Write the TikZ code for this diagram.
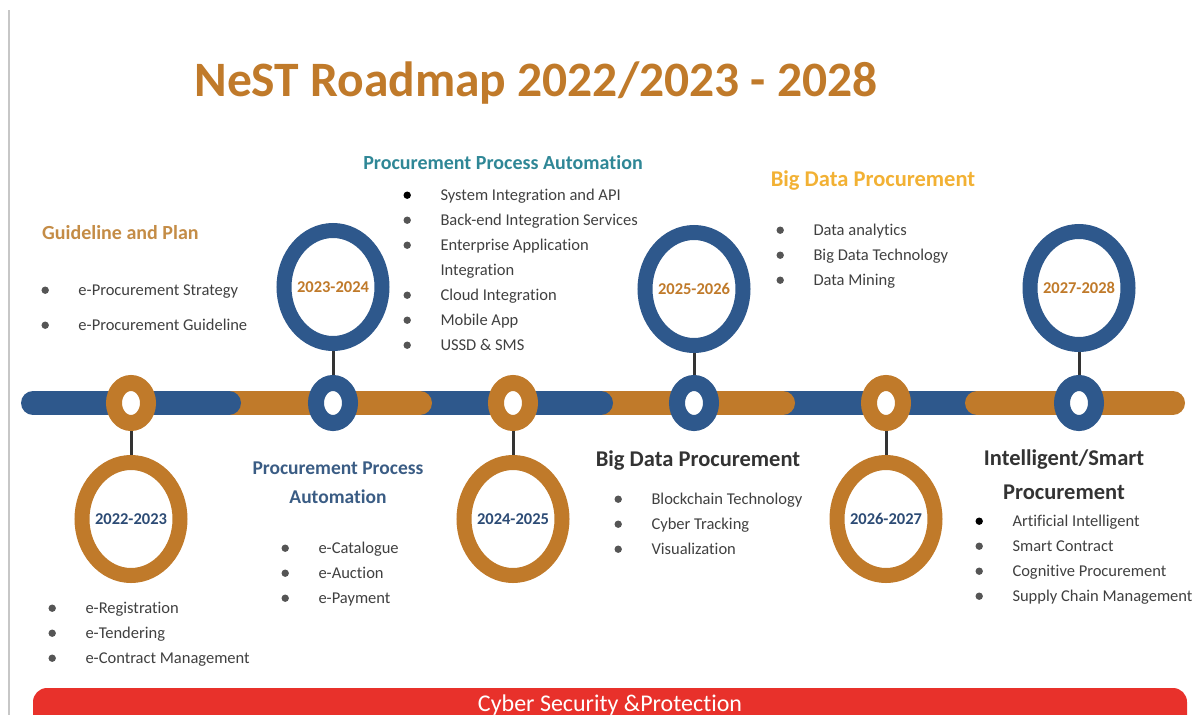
\documentclass[tikz,border=0pt]{standalone}
\usepackage{fontspec}
\setmainfont{Carlito}[Ligatures=NoCommon]
\usepackage{tikz}
\usetikzlibrary{shapes.geometric}
\definecolor{nestorange}{RGB}{192,122,42}
\definecolor{nestblue}{RGB}{46,88,140}
\definecolor{yearblue}{RGB}{44,75,117}
\definecolor{headteal}{RGB}{47,135,150}
\definecolor{headgold}{RGB}{242,177,52}
\definecolor{headslate}{RGB}{58,92,132}
\definecolor{headbrown}{RGB}{196,140,70}
\definecolor{textgray}{RGB}{64,64,64}
\definecolor{dotgray}{RGB}{85,85,85}
\definecolor{cyberred}{RGB}{232,49,43}
\newcommand{\dotm}[1][dotgray]{\makebox[37pt][l]{\tikz[baseline=-5.5pt]\fill[#1] (0,0) circle[radius=3.7pt];}\strut}

\begin{document}
\begin{tikzpicture}[x=1pt, y=-1pt,
    bigring/.style={ellipse, draw=#1, line width=15pt, fill=white, minimum width=98pt, minimum height=113pt, inner sep=-14pt, font=\fontsize{16.5}{20}\selectfont\bfseries},
    dotring/.style={ellipse, draw=#1, line width=16pt, fill=white, minimum width=34pt, minimum height=40pt, inner sep=0pt},
    stem/.style={draw=black!80, line width=3pt},
    bar/.style={line width=24pt, line cap=round},
    head/.style={inner sep=0pt, font=\fontsize{20}{29}\selectfont\bfseries},
    items/.style={anchor=north west, align=left, inner sep=0pt, text=textgray, font=\fontsize{16.5}{25}\selectfont}]
        \useasboundingbox (0,0) rectangle (1195,715);
        \draw[black!22, line width=1.2pt] (9,10) -- (9,715);

        \node[font=\fontsize{49.5}{60}\selectfont\bfseries, text=nestorange] (title) at (536,83) {NeST Roadmap 2022/2023 - 2028};

        \draw[bar, nestblue] (783,403) -- (980,403);
        \draw[bar, nestorange] (977,403) -- (1173,403);
        \draw[bar, nestorange] (601,403) -- (783,403);
        \draw[bar, nestblue] (420,403) -- (601,403);
        \draw[bar, nestorange] (229,403) -- (420,403);
        \draw[bar, nestblue] (33,403) -- (229,403);

        \node[dotring=nestorange] (d1) at (131,403) {};
        \node[dotring=nestblue] (d2) at (333,403) {};
        \node[dotring=nestorange] (d3) at (513,403) {};
        \node[dotring=nestblue] (d4) at (694,403) {};
        \node[dotring=nestorange] (d5) at (886,403) {};
        \node[dotring=nestblue] (d6) at (1079,403) {};

        \node[bigring=nestorange, text=yearblue] (y22) at (131,519) {2022-2023};
        \node[bigring=nestblue, text=nestorange] (y23) at (333,287) {2023-2024};
        \node[bigring=nestorange, text=yearblue] (y24) at (513,519) {2024-2025};
        \node[bigring=nestblue, text=nestorange] (y25) at (694,289) {2025-2026};
        \node[bigring=nestorange, text=yearblue] (y26) at (886,519) {2026-2027};
        \node[bigring=nestblue, text=nestorange] (y27) at (1079,288) {2027-2028};

        \draw[stem] (d1) -- (y22);
        \draw[stem] (d2) -- (y23);
        \draw[stem] (d3) -- (y24);
        \draw[stem] (d4) -- (y25);
        \draw[stem] (d5) -- (y26);
        \draw[stem] (d6) -- (y27);

        \node[head, text=headbrown, anchor=west] (plan) at (42,233) {Guideline and Plan};
        \node[items] (planlist) at (41.3,278) {\dotm e-Procurement Strategy\\[10pt]\dotm e-Procurement Guideline};
        \node[items] (ereglist) at (48.3,596) {\dotm e-Registration\\\dotm e-Tendering\\\dotm e-Contract Management};

        \node[head, text=headteal] (ppa) at (503,163) {Procurement Process Automation};
        \node[items] (ppalist) at (403.3,183) {\dotm[black]System Integration and API\\\dotm Back-end Integration Services\\\dotm Enterprise Application\\\hspace*{37pt}\strut Integration\\\dotm Cloud Integration\\\dotm Mobile App\\\dotm USSD \& SMS};

        \node[head, text=headslate, align=center, font=\fontsize{19.5}{29}\selectfont\bfseries] (eppa) at (338,483) {Procurement Process\\Automation};
        \node[items] (eppalist) at (281.3,536) {\dotm e-Catalogue\\\dotm e-Auction\\\dotm e-Payment};

        \node[head, text=black!80, font=\fontsize{22.5}{34}\selectfont\bfseries] (bdp) at (698,461) {Big Data Procurement};
        \node[items] (bdplist) at (614.3,487) {\dotm Blockchain Technology\\\dotm Cyber Tracking\\\dotm Visualization};

        \node[head, text=headgold, font=\fontsize{22.5}{34}\selectfont\bfseries] (bigdata) at (873,181) {Big Data Procurement};
        \node[items] (bigdatalist) at (776.3,218) {\dotm Data analytics\\\dotm Big Data Technology\\\dotm Data Mining};

        \node[head, text=black!80, align=center, font=\fontsize{22.5}{34}\selectfont\bfseries] (smart) at (1064,475) {Intelligent/Smart\\Procurement};
        \node[items] (smartlist) at (975.3,509) {\dotm[black]Artificial Intelligent\\\dotm Smart Contract\\\dotm Cognitive Procurement\\\dotm Supply Chain Management};

        \fill[cyberred, rounded corners=14pt] (33,688) rectangle (1187,750);
        \node[text=white, font=\fontsize{24}{28}\selectfont] (cyber) at (610,705) {Cyber Security \&Protection};
      \end{tikzpicture}
\end{document}
